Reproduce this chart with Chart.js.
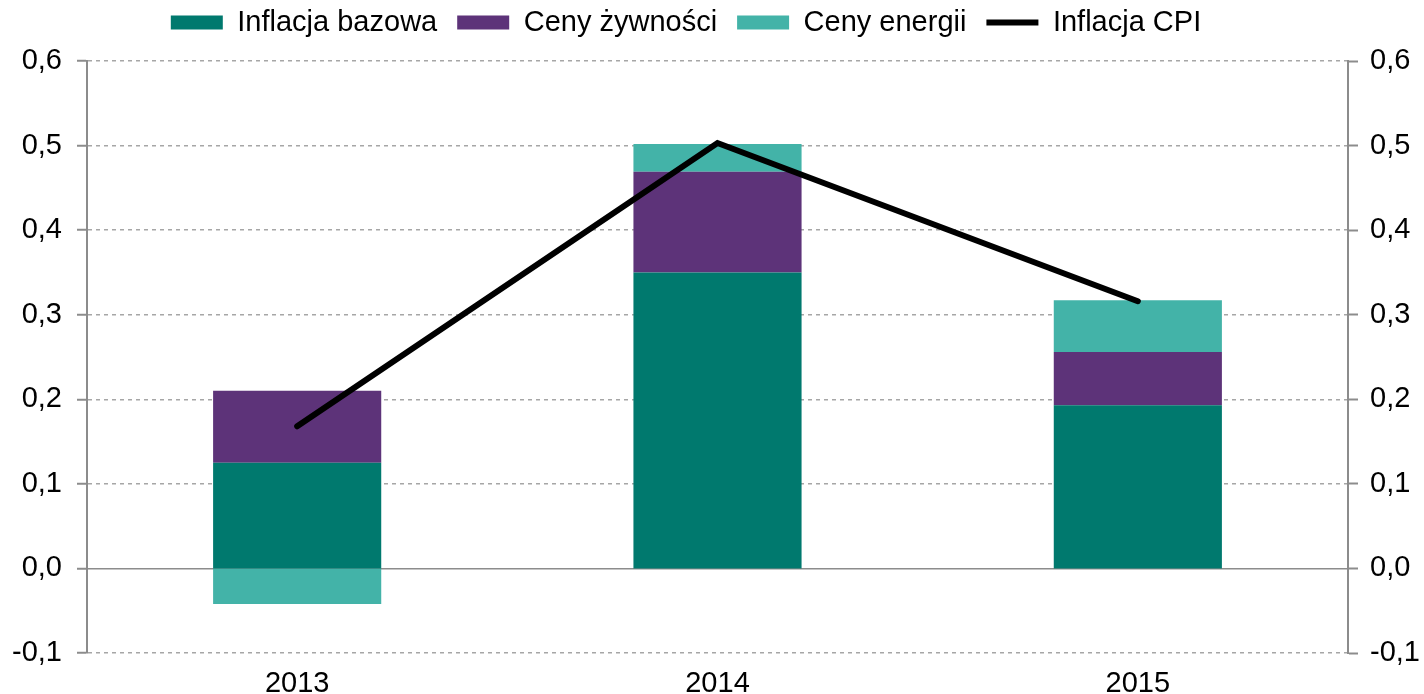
<!DOCTYPE html>
<html lang="pl">
<head>
<meta charset="UTF-8">
<title>Inflacja CPI – dekompozycja</title>
<script src="https://cdn.jsdelivr.net/npm/chart.js"></script>
<style>
  html, body { margin: 0; padding: 0; background: #fff; }
  #wrap { width: 1424px; height: 694px; }
</style>
</head>
<body>
<div id="wrap"><canvas id="chart"></canvas></div>
<script>
  const years   = ["2013", "2014", "2015"];
  const bazowa  = [0.125, 0.350, 0.193];
  const zywnosc = [0.085, 0.119, 0.063];
  const energia = [-0.042, 0.033, 0.061];
  const cpi     = [0.168, 0.503, 0.316];
  const yMin = -0.1, yMax = 0.6, yStep = 0.1;

  const FONT = "'Liberation Sans', Arial, sans-serif";
  const GRID = "#a6a6a6";
  const AXIS = "#8c8c8c";

  const fmt = v => (Math.abs(v) < 1e-9 ? 0 : v).toFixed(1).replace(".", ",");

  // legend: fixed height so the plot area starts where the reference does,
  // and nudged a bit to the left like in the original
  const legendTweak = {
    id: "legendTweak",
    beforeInit(chart) {
      const fit = chart.legend.fit;
      chart.legend.fit = function () {
        fit.call(this);
        this.height = 73;
      };
    },
    afterLayout(chart) {
      chart.legend.left -= 26;
      chart.legend.right -= 26;
    }
  };

  const gridDash = ctx => (ctx.type === "tick" && Math.abs(ctx.tick.value) > 1e-9) ? [4, 4] : [];

  new Chart(document.getElementById("chart"), {
    data: {
      labels: years,
      datasets: [
        { type: "bar", label: "Inflacja bazowa", data: bazowa, backgroundColor: "#00796e", yAxisID: "y" },
        { type: "bar", label: "Ceny żywności", data: zywnosc, backgroundColor: "#5d3379", yAxisID: "y" },
        { type: "bar", label: "Ceny energii", data: energia, backgroundColor: "#43b3a8", yAxisID: "y" },
        {
          type: "line", label: "Inflacja CPI", data: cpi, yAxisID: "y2", order: -1,
          borderColor: "#000", backgroundColor: "#000", borderWidth: 6,
          pointRadius: 0, tension: 0, borderCapStyle: "round", borderJoinStyle: "miter"
        }
      ]
    },
    options: {
      responsive: true,
      maintainAspectRatio: false,
      animation: false,
      layout: { padding: { top: -12, left: 0, right: 0, bottom: 0 } },
      datasets: { bar: { categoryPercentage: 1, barPercentage: 0.4 } },
      plugins: {
        tooltip: { enabled: false },
        legend: {
          position: "top",
          labels: {
            font: { family: FONT, size: 29 },
            color: "#000",
            usePointStyle: true,
            pointStyleWidth: 52,
            boxHeight: 14,
            padding: 20,
            sort: (a, b) => a.datasetIndex - b.datasetIndex,
            generateLabels(chart) {
              const items = Chart.defaults.plugins.legend.labels.generateLabels(chart);
              return items.map(it => {
                const ds = chart.data.datasets[it.datasetIndex];
                if (ds.type === "line") {
                  it.pointStyle = "line";
                  it.lineWidth = 6;
                  it.strokeStyle = "#000";
                } else {
                  it.pointStyle = "rect";
                  it.lineWidth = 0;
                }
                return it;
              });
            }
          }
        }
      },
      scales: {
        x: {
          stacked: true,
          grid: { display: false, drawTicks: false },
          border: { display: false },
          ticks: { font: { family: FONT, size: 29 }, color: "#000", padding: 14, maxRotation: 0 },
          afterFit: s => { s.height = 41; }
        },
        y: {
          stacked: true,
          position: "left",
          min: yMin, max: yMax,
          grid: { color: c => (c.tick && Math.abs(c.tick.value) < 1e-9) ? AXIS : GRID, lineWidth: 1.5, tickLength: 10, tickColor: AXIS, tickWidth: 2 },
          border: { display: true, color: AXIS, width: 2, dash: gridDash },
          ticks: { stepSize: yStep, font: { family: FONT, size: 29 }, color: "#000", padding: 15, callback: fmt },
          afterFit: s => { s.width = 87; }
        },
        y2: {
          position: "right",
          min: yMin, max: yMax,
          grid: { drawOnChartArea: false, tickLength: 10, tickColor: AXIS, tickWidth: 2 },
          border: { display: true, color: AXIS, width: 2 },
          ticks: { stepSize: yStep, font: { family: FONT, size: 29 }, color: "#000", padding: 12, callback: fmt },
          afterFit: s => { s.width = 76; }
        }
      }
    },
    plugins: [legendTweak]
  });
</script>
</body>
</html>
